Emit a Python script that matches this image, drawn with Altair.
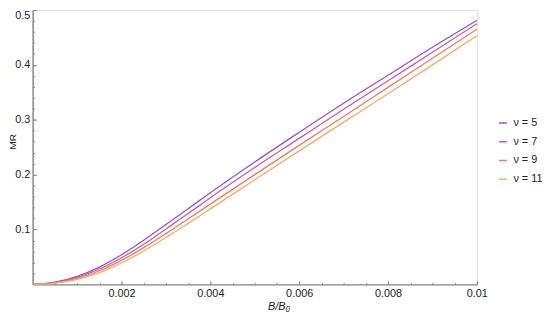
import altair as alt
import pandas as pd

B = [0, 0.0005, 0.001, 0.0015, 0.002, 0.0025, 0.003, 0.0035, 0.004, 0.005, 0.006, 0.007, 0.008, 0.009, 0.01]
mr_nu5 = [0, 0.004, 0.0145, 0.0315, 0.054, 0.0805, 0.109, 0.138, 0.167, 0.223, 0.277, 0.330, 0.381, 0.432, 0.481]
mr_nu7 = [0, 0.003, 0.0128, 0.028, 0.0485, 0.073, 0.101, 0.129, 0.158, 0.213, 0.266, 0.319, 0.371, 0.423, 0.475]
mr_nu9 = [0, 0.0028, 0.011, 0.0248, 0.0438, 0.0669, 0.0925, 0.1193, 0.1463, 0.200, 0.2533, 0.306, 0.359, 0.412, 0.465]
mr_nu11 = [0, 0.0023, 0.0093, 0.0215, 0.039, 0.0608, 0.0853, 0.1112, 0.1376, 0.1906, 0.2433, 0.2956, 0.3473, 0.400, 0.453]

series = ["ν = 5", "ν = 7", "ν = 9", "ν = 11"]
colors = ["#9650cc", "#c95aac", "#ee7b58", "#f8a866"]
x_major = [0.002, 0.004, 0.006, 0.008, 0.01]
x_minor = [i * 0.0005 for i in range(1, 21)]
y_major = [0.1, 0.2, 0.3, 0.4, 0.5]
y_minor = [i * 0.02 for i in range(1, 26)]

rows = []
for name, vals in zip(series, [mr_nu5, mr_nu7, mr_nu9, mr_nu11]):
    for b, v in zip(B, vals):
        rows.append({"B": b, "MR": v, "nu": name})
df = pd.DataFrame(rows)

W, H = 450, 278
AX = "#8a8a8a"
FONT = "Liberation Sans"

xscale = alt.Scale(domain=[0, 0.01], nice=False, zero=False)
yscale = alt.Scale(domain=[0, 0.5], nice=False, zero=False)

main = alt.Chart(df).mark_line(strokeWidth=1.3, interpolate="monotone").encode(
    x=alt.X("B:Q", scale=xscale,
            axis=alt.Axis(values=x_major, format="~g", title="B/B₀", ticks=False,
                          domainColor=AX, domainWidth=1.5, labelColor="#222",
                          labelFont=FONT, labelFontSize=11, labelPadding=3, labelFlush=False,
                          titleFont=FONT, titleFontSize=11, titleFontStyle="italic",
                          titleFontWeight="normal", titleColor="#222",
                          titleX=249, titleY=22, titleBaseline="middle", grid=False)),
    y=alt.Y("MR:Q", scale=yscale,
            axis=alt.Axis(values=y_major, format="~g", title="MR", ticks=False,
                          domainColor=AX, domainWidth=1.5, labelColor="#222",
                          labelFont=FONT, labelFontSize=11, labelPadding=3, labelFlush=True,
                          titleFont=FONT, titleFontSize=10, titleFontWeight="normal",
                          titleColor="#222", titleX=-20, titleY=133,
                          titleBaseline="middle", grid=False)),
    color=alt.Color("nu:N", sort=series,
                    scale=alt.Scale(domain=series, range=colors),
                    legend=alt.Legend(title=None, orient="none", legendX=471, legendY=109,
                                      symbolType="stroke", symbolSize=64, symbolStrokeWidth=1.5,
                                      labelFont=FONT, labelFontSize=11, labelColor="#222",
                                      labelOffset=5, rowPadding=7)),
)

minor = alt.Chart(df).mark_line(opacity=0).encode(
    x=alt.X("B:Q", scale=xscale,
            axis=alt.Axis(orient="top", offset=-H, values=x_minor, labels=False, domain=False,
                          tickSize=2, tickColor=AX, tickWidth=1, title=None, grid=False)),
    y=alt.Y("MR:Q", scale=yscale,
            axis=alt.Axis(orient="right", offset=-W, values=y_minor, labels=False, domain=False,
                          tickSize=2, tickColor=AX, tickWidth=1, title=None, grid=False)),
)

major = alt.Chart(df).mark_line(opacity=0).encode(
    x=alt.X("B:Q", scale=xscale,
            axis=alt.Axis(orient="top", offset=-H, values=x_major, labels=False, domain=False,
                          tickSize=4, tickColor=AX, tickWidth=1, title=None, grid=False)),
    y=alt.Y("MR:Q", scale=yscale,
            axis=alt.Axis(orient="right", offset=-W, values=y_major, labels=False, domain=False,
                          tickSize=4, tickColor=AX, tickWidth=1, title=None, grid=False)),
)

chart = alt.layer(main, minor, major).resolve_axis(x="independent", y="independent").properties(
    width=W, height=H,
    autosize=alt.AutoSizeParams(type="none"),
    padding={"left": 25, "top": 0, "right": 66, "bottom": 28},
).configure_view(stroke=None).configure(background="white")

chart.save("out.html", embed_options={"renderer": "svg", "actions": False})
